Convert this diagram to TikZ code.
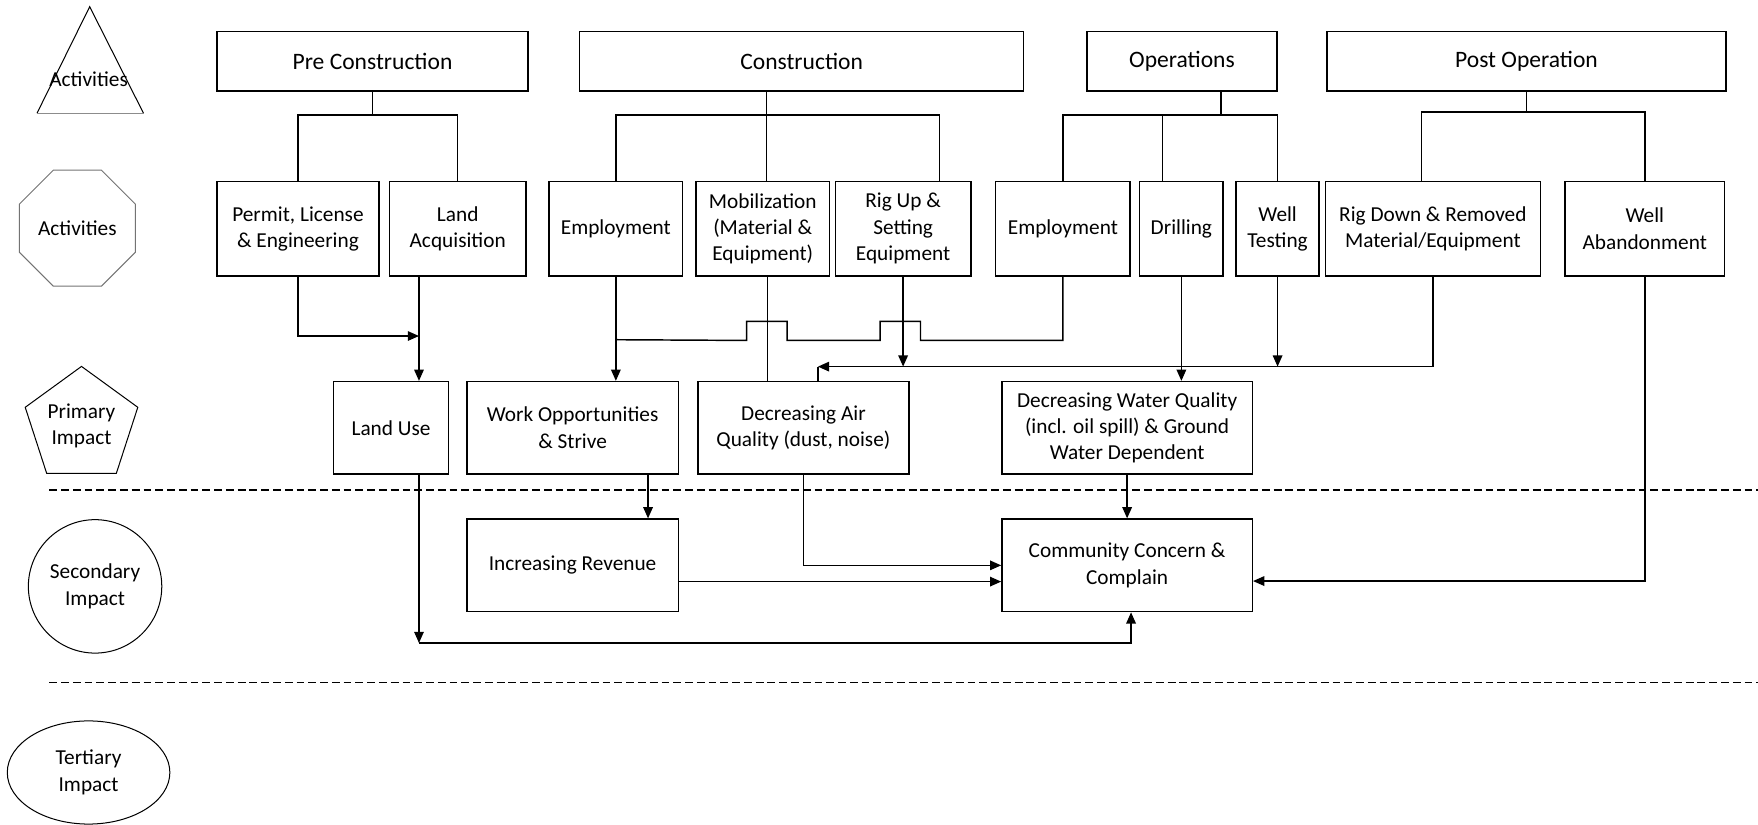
\documentclass[tikz,border=0pt]{standalone}
\usepackage{fontspec}
\setmainfont{Carlito}
\usetikzlibrary{arrows.meta,shapes.geometric}

\begin{document}
\begin{tikzpicture}[x=1pt,y=-1pt,font=\fontsize{19}{23.5}\selectfont,line width=1.3pt]
  \tikzset{box/.style={draw,align=center,inner sep=2pt},
    phase/.style={box,minimum height=53,font=\fontsize{21}{25}\selectfont},
    act/.style={box,minimum height=84},
    impact/.style={box,minimum height=82.5},
    arr/.style={-{Triangle[length=10pt,width=8.5pt]}},
    legend/.style={draw,line width=.9pt,align=center,inner sep=0pt}}
  \useasboundingbox (0,0) rectangle (1568,735);

  % legend shapes down the left side
  \draw[line width=.9pt] (33,101) -- (80,6) -- (128,101);
  \draw[line width=.9pt,black!45] (128,101) -- (33,101);
  \node (actA) at (79,71) {Activities};
  \node[legend,draw=black!55,regular polygon,regular polygon sides=8,minimum size=112] (actB) at (69,203.5) {Activities};
  \node[legend,regular polygon,regular polygon sides=5,minimum size=105] (prim) at (72.7,379.6) {Primary\\Impact};
  \node[legend,circle,minimum size=119] (sec) at (84.8,523) {Secondary\\Impact};
  \node[legend,ellipse,minimum width=145,minimum height=92] (ter) at (79,689) {Tertiary\\Impact};

  \draw[dash pattern=on 7pt off 3.5pt,line width=1pt] (44,437) -- (1568,437);
  \draw[dash pattern=on 7pt off 3.5pt,line width=1pt] (44,609) -- (1568,609);

  \node[phase,minimum width=277.5] (pre) at (332.25,54.5) {Pre Construction};
  \node[phase,minimum width=396] (cons) at (715,54.5) {Construction};
  \node[phase,minimum width=169.5] (ops) at (1054.25,54.5) {Operations};
  \node[phase,minimum width=356] (post) at (1361.5,54.5) {Post Operation};

  \node[act,minimum width=144.5] (permit) at (265.75,204) {Permit, License\\\& Engineering};
  \node[act,minimum width=121.5] (landacq) at (408.25,204) {Land\\Acquisition};
  \node[act,minimum width=119] (emp1) at (549.3,204) {Employment};
  \node[act,minimum width=119] (mob) at (680.3,204) {Mobilization\\(Material \&\\Equipment)};
  \node[act,minimum width=121] (rigup) at (805.5,204) {Rig Up \&\\Setting\\Equipment};
  \node[act,minimum width=120] (emp2) at (948,204) {Employment};
  \node[act,minimum width=74.6] (drill) at (1053.7,204) {Drilling};
  \node[act,minimum width=74] (welltest) at (1139.5,204) {Well\\Testing};
  \node[act,minimum width=192] (rigdown) at (1278,204) {Rig Down \& Removed\\Material/Equipment};
  \node[act,minimum width=142] (abandon) at (1467,204) {Well\\Abandonment};

  \node[impact,minimum width=102.4] (landuse) at (348.8,381.6) {Land Use};
  \node[impact,minimum width=188.6] (workopp) at (510.7,381.6) {Work Opportunities\\\& Strive};
  \node[impact,minimum width=188] (airq) at (716.6,381.6) {Decreasing Air\\Quality (dust, noise)};
  \node[impact,minimum width=223.3] (water) at (1005.3,381.6) {Decreasing Water Quality\\(incl. oil spill) \& Ground\\Water Dependent};

  \node[impact,minimum width=188.6] (revenue) at (510.7,504.25) {Increasing Revenue};
  \node[impact,minimum width=223.3] (community) at (1005.3,504.25) {Community Concern \&\\Complain};

  \coordinate (consbar) at (683.5,102.5);
  \coordinate (opsbar) at (1089,102.5);
  \coordinate (postbar) at (1361.5,100);
  \coordinate (landjoin) at (373.7,299.7);
  \coordinate (empjoin) at (549.3,303);
  \coordinate (airjoin) at (729.5,327);
  \coordinate (landcorner) at (373.7,573.5);

  \draw (pre.south) -- (pre.south |- consbar);
  \draw (permit.north) |- (consbar -| pre.south) -| (landacq.north);
  \draw (consbar |- cons.south) -- (consbar |- mob.north);
  \draw (emp1.north) |- (consbar) -| ([xshift=32.5]rigup.north);
  \draw (opsbar |- ops.south) -- (opsbar);
  \draw (emp2.north) |- (opsbar) -| (welltest.north);
  \draw ([xshift=-16.7]drill.north) -- ([xshift=-16.7]drill.north |- opsbar);
  \draw (post.south) -- (postbar);
  \draw ([xshift=-10]rigdown.north) |- (postbar) -| (abandon.north);

  \draw[arr] (permit.south) |- (landjoin);
  \draw[arr] (landacq.south -| landjoin) -- (landuse.north -| landjoin);
  \draw[arr] (emp1.south) -- (emp1.south |- workopp.north);
  \draw (emp2.south) -- ++(0,57) -- ++(-127,0) -- ++(0,-17) -- ++(-36,0) -- ++(0,17)
    -- ++(-83,0) -- ++(0,-17) -- ++(-36,0) -- ++(0,17) -- (empjoin);
  \draw ([xshift=4]mob.south) -- ([xshift=-32.3]airq.north);
  \draw[arr] (rigup.south) -- (rigup.south |- airjoin);
  \draw[arr] (welltest.south) -- (welltest.south |- airjoin);
  \draw[arr] (rigdown.south) |- (airjoin);
  \draw (airq.north -| airjoin) -- (airjoin);
  \draw[arr] (drill.south) -- (drill.south |- water.north);
  \draw[arr] ([xshift=67.3]workopp.south) -- ([xshift=67.3]revenue.north);
  \draw[arr] (airq.south) |- (community.west);
  \draw[arr] ([yshift=-14.5]revenue.east) -- ([yshift=-14.5]community.west);
  \draw[arr] (water.south) -- (community.north);
  \draw[arr] (abandon.south) |- ([yshift=-14]community.east);
  \draw[arr] (landuse.south -| landjoin) -- (landcorner);
  \draw[arr] (landcorner) -| ([xshift=3.5]community.south);
\end{tikzpicture}
\end{document}
